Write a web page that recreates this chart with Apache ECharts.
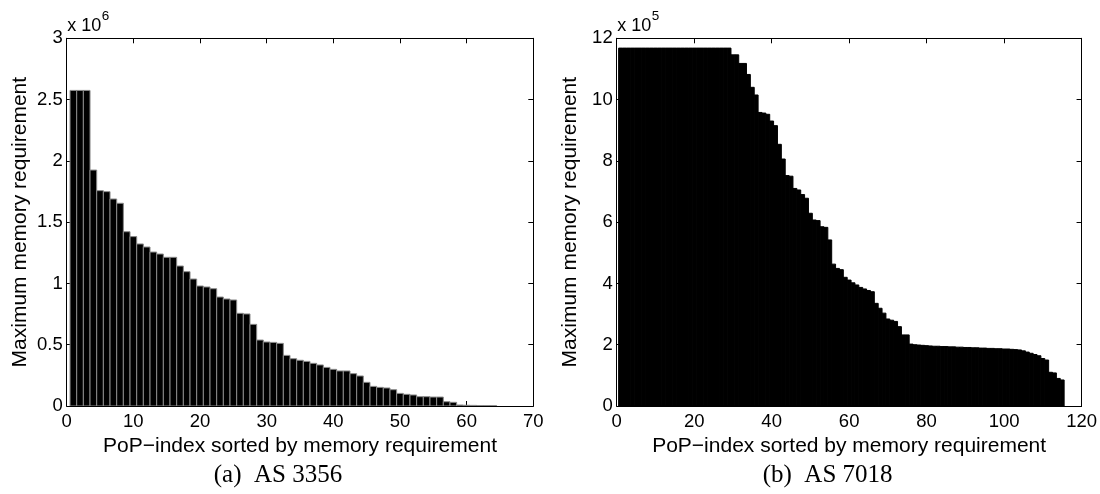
<!DOCTYPE html>
<html>
<head>
<meta charset="utf-8">
<script src="https://cdn.jsdelivr.net/npm/echarts@6/dist/echarts.min.js"></script>
<style>
html,body{margin:0;padding:0;background:#fff;}
#c{width:1100px;height:494px;}
</style>
</head>
<body>
<div id="c"></div>
<script>
// ---- data ----
// (a) AS 3356 : maximum memory requirement per PoP, sorted
const as3356Values = [
  2575000, 2575000, 2575000, 1925000, 1757000, 1749000, 1689000, 1654000, 1422000, 1382000,
  1322000, 1297000, 1256000, 1240000, 1213000, 1213000, 1142000, 1096000, 1036000, 979000,
  971000, 957000, 889000, 873000, 865000, 756000, 751000, 666000, 538000, 522000,
  519000, 511000, 413000, 386000, 373000, 364000, 348000, 335000, 315000, 299000,
  286000, 286000, 264000, 245000, 193000, 160000, 152000, 147000, 133000, 103000,
  95000, 90000, 76000, 76000, 73000, 73000, 35000, 30000, 8000, 6000,
  5000, 4000, 4000, 3000
];
// (b) AS 7018
const as7018Values = [
  1168000, 1168000, 1168000, 1168000, 1168000, 1168000, 1168000, 1168000, 1168000, 1168000,
  1168000, 1168000, 1168000, 1168000, 1168000, 1168000, 1168000, 1168000, 1168000, 1168000,
  1168000, 1168000, 1168000, 1168000, 1168000, 1168000, 1168000, 1168000, 1168000, 1146000,
  1146000, 1118000, 1118000, 1082000, 1040000, 1015000, 958000, 956000, 952000, 930000,
  915000, 854000, 806000, 752000, 750000, 710000, 705000, 690000, 678000, 629000,
  607000, 605000, 585000, 583000, 542000, 463000, 449000, 445000, 420000, 411000,
  402000, 395000, 387000, 382000, 377000, 373000, 335000, 319000, 303000, 284000,
  280000, 276000, 259000, 232000, 232000, 202000, 200000, 199000, 198000, 197000,
  196000, 195000, 195000, 194000, 194000, 193000, 193000, 192000, 192000, 191000,
  191000, 190000, 190000, 189000, 189000, 188000, 188000, 187000, 187000, 186000,
  186000, 185000, 184000, 183000, 180000, 176000, 172000, 168000, 164000, 155000,
  150000, 110000, 108000, 90000, 85000
];
const xAxisTitle = 'PoP\u2212index sorted by memory requirement';
const yAxisTitle = 'Maximum memory requirement';
const captions = ['(a)  AS 3356', '(b)  AS 7018'];
const yExponents = ['6', '5'];
const yScales = [1e6, 1e5];
const xMax = [70, 120];
const xStep = [10, 20];
const yMax = [3000000, 1200000];
const yStep = [500000, 200000];

// ---- layout ----
const SANS = 'Liberation Sans';
const SERIF = 'Liberation Serif';
const grids = [
  {left: 66.7, top: 38.3, width: 466.6, height: 367.7},
  {left: 616.7, top: 38.3, width: 465.8, height: 367.7}
];

function toPairs(arr) { return arr.map((v, k) => [k + 1, v]); }

function barRenderer(stroke, lw) {
  return function (params, api) {
    const i = api.value(0), v = api.value(1);
    const tl = api.coord([i - 0.5, v]);
    const br = api.coord([i + 0.5, 0]);
    return {
      type: 'rect',
      shape: {x: tl[0], y: tl[1], width: br[0] - tl[0], height: br[1] - tl[1]},
      style: {fill: '#000', stroke: stroke, lineWidth: lw}
    };
  };
}

const axisLine = {show: true, onZero: false, lineStyle: {color: '#000', width: 1}};
const axisTick = {show: true, inside: true, length: 5, lineStyle: {color: '#000', width: 1}};
const tickFont = {color: '#000', fontFamily: SANS, fontSize: 18.5};

const xAxes = [], yAxes = [];
for (let g = 0; g < 2; g++) {
  xAxes.push({
    gridIndex: g, type: 'value', position: 'bottom', min: 0, max: xMax[g], interval: xStep[g],
    axisLine: axisLine, axisTick: axisTick, splitLine: {show: false},
    axisLabel: Object.assign({margin: 6}, tickFont),
    name: xAxisTitle, nameLocation: 'middle', nameGap: 19,
    nameTextStyle: {color: '#000', fontFamily: SANS, fontSize: 21}
  });
  xAxes.push({
    gridIndex: g, type: 'value', position: 'top', min: 0, max: xMax[g], interval: xStep[g],
    axisLine: axisLine, axisTick: axisTick, splitLine: {show: false}, axisLabel: {show: false}
  });
  const sc = yScales[g];
  yAxes.push({
    gridIndex: g, type: 'value', position: 'left', min: 0, max: yMax[g], interval: yStep[g],
    axisLine: axisLine, axisTick: axisTick, splitLine: {show: false},
    axisLabel: Object.assign({margin: 4, formatter: v => String(Math.round(v / sc * 10) / 10)}, tickFont),
    name: yAxisTitle, nameLocation: 'middle', nameRotate: 90, nameGap: 36,
    nameTextStyle: {color: '#000', fontFamily: SANS, fontSize: 21}
  });
  yAxes.push({
    gridIndex: g, type: 'value', position: 'right', min: 0, max: yMax[g], interval: yStep[g],
    axisLine: axisLine, axisTick: axisTick, splitLine: {show: false}, axisLabel: {show: false}
  });
}

const graphics = [];
for (let g = 0; g < 2; g++) {
  const gr = grids[g];
  graphics.push({type: 'text', left: gr.left + 0.5, top: 17,
    style: {text: 'x 10', font: '18px "' + SANS + '"', fill: '#000'}});
  graphics.push({type: 'text', left: gr.left + 35, top: 9,
    style: {text: yExponents[g], font: '13.5px "' + SANS + '"', fill: '#000'}});
  graphics.push({type: 'text', x: gr.left + gr.width / 2 - 22, y: 475,
    style: {text: captions[g], font: '25px "' + SERIF + '"', fill: '#000', align: 'center', verticalAlign: 'middle'}});
}

const chart = echarts.init(document.getElementById('c'), null, {renderer: 'canvas'});
chart.setOption({
  animation: false,
  backgroundColor: '#fff',
  grid: grids,
  xAxis: xAxes,
  yAxis: yAxes,
  graphic: graphics,
  series: [
    {type: 'custom', xAxisIndex: 0, yAxisIndex: 0, renderItem: barRenderer('#8a8a8a', 1),
     data: toPairs(as3356Values), encode: {x: 0, y: 1}, clip: true},
    {type: 'custom', xAxisIndex: 2, yAxisIndex: 2, renderItem: barRenderer('#000', 1),
     data: toPairs(as7018Values), encode: {x: 0, y: 1}, clip: true}
  ]
});
</script>
</body>
</html>
